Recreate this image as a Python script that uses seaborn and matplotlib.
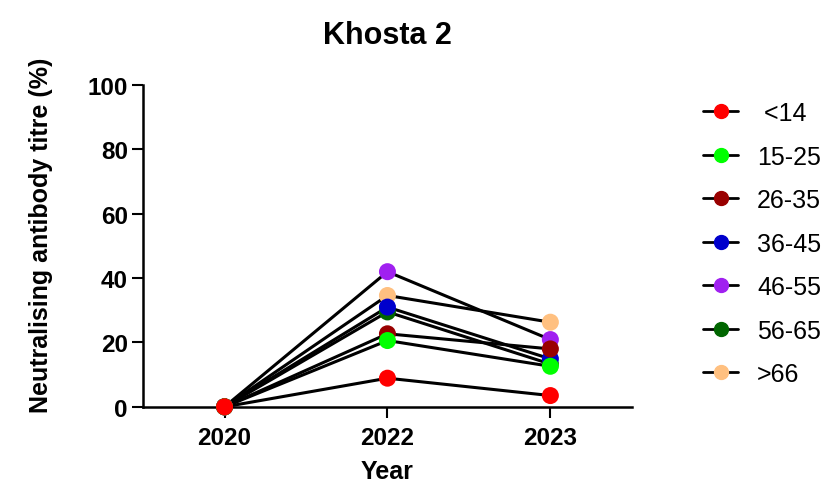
import pandas as pd
import matplotlib
matplotlib.use("Agg")
import matplotlib.pyplot as plt
import seaborn as sns
from matplotlib.lines import Line2D

years = ["2020", "2022", "2023"]
groups = [" <14", "15-25", "26-35", "36-45", "46-55", "56-65", ">66"]
colors = ["#FF0000", "#00FF00", "#990000", "#0000CC", "#A020F0", "#006600", "#FFC080"]

lt14 = [0, 8.9, 3.5]
g15_25 = [0, 20.6, 12.6]
g26_35 = [0, 22.7, 18.0]
g36_45 = [0, 31.0, 14.9]
g46_55 = [0, 42.0, 20.9]
g56_65 = [0, 29.5, 13.3]
gt66 = [0, 34.6, 26.3]

series = [lt14, g15_25, g26_35, g36_45, g46_55, g56_65, gt66]

rows = []
for g, vals in zip(groups, series):
    for y, v in zip(years, vals):
        rows.append({"Year": y, "Titre": v, "Age": g})
df = pd.DataFrame(rows)

sns.set_style("ticks")
plt.rcParams["font.family"] = ["Liberation Sans", "DejaVu Sans"]
plt.rcParams["text.color"] = "black"
plt.rcParams["axes.labelcolor"] = "black"
plt.rcParams["xtick.color"] = "black"
plt.rcParams["ytick.color"] = "black"
plt.rcParams["axes.edgecolor"] = "black"

fig = plt.figure(figsize=(8.27, 4.89), dpi=100)
ax = fig.add_axes([0.173, 0.166, 0.591, 0.658])

# black connecting lines, one per age group
sns.lineplot(data=df, x="Year", y="Titre", units="Age", estimator=None,
             color="black", lw=2.2, sort=False, ax=ax, legend=False, zorder=2)

# coloured markers, drawn in reverse so the first group sits on top
sns.scatterplot(data=df.iloc[::-1], x="Year", y="Titre", hue="Age",
                palette=dict(zip(groups, colors)), s=150, edgecolor="none",
                ax=ax, legend=False, zorder=3, clip_on=False)

ax.set_xlim(-0.5, 2.5)
ax.set_ylim(0, 100)
ax.set_yticks([0, 20, 40, 60, 80, 100])
ax.set_title("Khosta 2", fontsize=22, fontweight="bold", pad=30)
ax.set_xlabel("Year", fontsize=18, fontweight="bold", labelpad=7)
ax.set_ylabel("Neutralising antibody titre (%)", fontsize=18, fontweight="bold")
ax.yaxis.set_label_coords(-0.185, 0.535)
ax.tick_params(axis="both", labelsize=17.5, width=1.5, length=8, pad=3)
ax.tick_params(axis="x", pad=6)
for lab in ax.get_xticklabels() + ax.get_yticklabels():
    lab.set_fontweight("bold")
for s in ["left", "bottom"]:
    ax.spines[s].set_linewidth(1.8)
sns.despine(ax=ax)

handles = [Line2D([0], [0], color="black", lw=2, marker="o", markersize=10,
                  markerfacecolor=c, markeredgecolor=c) for c in colors]
ax.legend(handles, groups, loc="upper left", bbox_to_anchor=(1.1, 1.02),
          frameon=False, fontsize=18, handlelength=1.4, handletextpad=0.75,
          labelspacing=0.78)

fig.savefig("out.png", dpi=100)
